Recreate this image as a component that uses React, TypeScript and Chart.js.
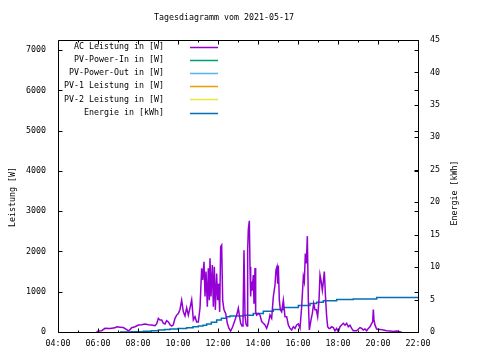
import React, { useEffect, useRef } from 'react';
import { Chart, registerables } from 'chart.js';

Chart.register(...registerables);

const chartTitle = 'Tagesdiagramm vom 2021-05-17';
const leftAxisTitle = 'Leistung [W]';
const rightAxisTitle = 'Energie [kWh]';

const seriesNames = [
  'AC Leistung in [W]',
  'PV-Power-In in [W]',
  'PV-Power-Out in [W]',
  'PV-1 Leistung in [W]',
  'PV-2 Leistung in [W]',
  'Energie in [kWh]',
];
const seriesColors = ['#9400d3', '#009e73', '#56b4e9', '#e69f00', '#f0e442', '#0072b2'];

// time in minutes after midnight
const acMinutes = [
  356, 361, 371, 381, 396, 411, 416, 426, 436, 446, 451, 456, 461, 471, 481, 491, 501, 511, 521, 531,
  536, 541, 546, 551, 556, 561, 566, 571, 576, 581, 586, 591, 596, 601, 606, 611, 616, 621, 626, 631,
  636, 641, 646, 651, 656, 661, 666, 671, 674, 678, 681, 684, 688, 691, 694, 696, 699, 703, 706, 709,
  712, 716, 719, 722, 725, 728, 731, 734, 738, 743, 748, 753, 758, 764, 771, 776, 781, 784, 788, 792,
  795, 798, 801, 804, 807, 809, 811, 814, 816, 818, 820, 822, 824, 826, 828, 831, 833, 836, 841, 846,
  851, 856, 861, 866, 871, 876, 881, 886, 891, 894, 897, 899, 901, 904, 907, 911, 916, 921, 926, 931,
  936, 941, 946, 951, 956, 961, 966, 971, 976, 979, 982, 985, 988, 991, 994, 999, 1003, 1007, 1011, 1015,
  1019, 1023, 1026, 1029, 1033, 1036, 1039, 1043, 1046, 1049, 1053, 1056, 1061, 1066, 1071, 1076, 1081, 1086, 1096, 1101,
  1106, 1111, 1116, 1121, 1126, 1136, 1146, 1151, 1156, 1161, 1166, 1171, 1176, 1181, 1184, 1186, 1188, 1191, 1196, 1206,
  1216, 1226, 1236, 1246, 1256, 1266, 1271,
];
const acWatts = [
  0, 25, 33, 91, 90, 105, 130, 120, 110, 60, 30, 60, 105, 130, 174, 180, 198, 180, 175, 158,
  200, 340, 300, 300, 220, 200, 280, 250, 180, 150, 180, 340, 420, 460, 560, 790, 500, 400, 600, 420,
  600, 800, 300, 380, 250, 250, 600, 1580, 1290, 1745, 880, 1500, 630, 1580, 790, 1830, 880, 1660, 630, 1620,
  550, 1450, 790, 1200, 500, 2120, 2160, 790, 550, 460, 215, 90, 25, 130, 300, 420, 590, 420, 215, 150,
  300, 2030, 400, 200, 150, 2030, 2550, 2760, 1620, 880, 1250, 1040, 1200, 1414, 700, 1590, 500, 420, 460, 420,
  260, 215, 175, 90, 215, 420, 340, 877, 1166, 1540, 1620, 1200, 1650, 790, 550, 500, 790, 380, 380, 175,
  90, 50, 130, 90, 175, 200, 90, 628, 1373, 1250, 1950, 1700, 2380, 790, 50, 300, 460, 710, 550, 550,
  380, 790, 1420, 1290, 1040, 1250, 1500, 790, 380, 130, 90, 90, 130, 110, 30, 90, 5, 130, 215, 170,
  215, 130, 170, 90, 30, 30, 110, 90, 50, 75, 30, 90, 130, 215, 250, 560, 300, 170, 75, 65,
  50, 30, 25, 15, 25, 5, 0,
];

const pvInWatts: number[] = [];
const pvOutWatts: number[] = [];
const pv1Watts: number[] = [];
const pv2Watts: number[] = [];

const energyMinutes = [
  426, 460, 496, 520, 541, 560, 576, 600, 626, 645, 661, 675, 686, 700, 716, 730, 746, 756, 796, 826,
  856, 886, 916, 961, 996, 1016, 1036, 1076, 1126, 1196, 1320,
];
const energyKwh = [
  0, 0.05, 0.1, 0.2, 0.3, 0.4, 0.46, 0.55, 0.66, 0.8, 0.92, 1.05, 1.22, 1.5, 1.84, 2.1, 2.35, 2.45, 2.6, 2.86,
  3.2, 3.47, 3.78, 4.08, 4.39, 4.6, 4.8, 5.0, 5.1, 5.3, 5.3,
];

// axis ranges and tick labels
const xMin = 240; // 04:00
const xMax = 1320; // 22:00
const xTickMinutes = [240, 360, 480, 600, 720, 840, 960, 1080, 1200, 1320];
const xMinorTickMinutes = [300, 420, 540, 660, 780, 900, 1020, 1140, 1260];
const wattMax = 7250;
const wattTicks = [0, 1000, 2000, 3000, 4000, 5000, 6000, 7000];
const kwhMax = 45;
const kwhTicks = [0, 5, 10, 15, 20, 25, 30, 35, 40, 45];

const FONT_FAMILY = '"DejaVu Sans Mono", "Liberation Mono", monospace';
const FONT_SIZE = 8.3;
const FONT = `${FONT_SIZE}px ${FONT_FAMILY}`;

const fmtTime = (v: number) => {
  const h = Math.floor(v / 60);
  const m = Math.round(v % 60);
  return `${String(h).padStart(2, '0')}:${String(m).padStart(2, '0')}`;
};

const zip = (xs: number[], ys: number[]) => xs.map((x, i) => ({ x, y: ys[i] }));

const decorPlugin = {
  id: 'gnuplotDecor',
  afterDatasetsDraw(chart: any) {
    const { ctx, chartArea: a, scales } = chart;
    const xs = scales.x;
    const y1 = scales.y;
    const y2 = scales.y2;
    ctx.save();
    ctx.strokeStyle = '#000';
    ctx.lineWidth = 1;
    const L = Math.round(a.left) + 0.5;
    const R = Math.round(a.right) + 0.5;
    const T = Math.round(a.top) + 0.5;
    const B = Math.round(a.bottom) + 0.5;
    ctx.beginPath();
    ctx.rect(L, T, R - L, B - T);
    const major = 4;
    const minor = 2;
    xTickMinutes.forEach((v) => {
      const px = Math.round(xs.getPixelForValue(v)) + 0.5;
      ctx.moveTo(px, B); ctx.lineTo(px, B - major);
      ctx.moveTo(px, T); ctx.lineTo(px, T + major);
    });
    xMinorTickMinutes.forEach((v) => {
      const mp = Math.round(xs.getPixelForValue(v)) + 0.5;
      ctx.moveTo(mp, B); ctx.lineTo(mp, B - minor);
      ctx.moveTo(mp, T); ctx.lineTo(mp, T + minor);
    });
    wattTicks.forEach((v) => {
      const py = Math.round(y1.getPixelForValue(v)) + 0.5;
      ctx.moveTo(L, py); ctx.lineTo(L + major, py);
      ctx.moveTo(R, py); ctx.lineTo(R - major, py);
    });
    kwhTicks.forEach((v) => {
      const py = Math.round(y2.getPixelForValue(v)) + 0.5;
      ctx.moveTo(R, py); ctx.lineTo(R - major, py);
    });
    ctx.stroke();

    // title & axis titles
    ctx.fillStyle = '#000';
    ctx.font = FONT;
    ctx.textBaseline = 'middle';
    ctx.textAlign = 'center';
    ctx.fillText(chartTitle, 224, 18);
    ctx.save();
    ctx.translate(13, 197);
    ctx.rotate(-Math.PI / 2);
    ctx.fillText(leftAxisTitle, 0, 0);
    ctx.restore();
    ctx.save();
    ctx.translate(455, 193);
    ctx.rotate(-Math.PI / 2);
    ctx.fillText(rightAxisTitle, 0, 0);
    ctx.restore();

    // key
    chart.data.datasets.forEach((ds: any, i: number) => {
      const y = 47 + i * 13.1;
      ctx.textAlign = 'right';
      ctx.fillStyle = '#000';
      ctx.fillText(ds.label, 164, y);
      ctx.strokeStyle = ds.borderColor;
      ctx.lineWidth = 1.5;
      ctx.beginPath();
      ctx.moveTo(190, Math.round(y) + 0.5);
      ctx.lineTo(218, Math.round(y) + 0.5);
      ctx.stroke();
    });
    ctx.restore();
  },
};

export default function App() {
  const canvasRef = useRef<HTMLCanvasElement | null>(null);

  useEffect(() => {
    document.body.style.margin = '0';
    const canvas = canvasRef.current;
    if (!canvas) return;
    const tickFont = { family: FONT_FAMILY, size: FONT_SIZE };
    const seriesData = [
      zip(acMinutes, acWatts),
      zip([], pvInWatts),
      zip([], pvOutWatts),
      zip([], pv1Watts),
      zip([], pv2Watts),
      zip(energyMinutes, energyKwh),
    ];
    const chart = new Chart(canvas, {
      type: 'line',
      data: {
        datasets: seriesNames.map((name, i) => ({
          label: name,
          data: seriesData[i],
          borderColor: seriesColors[i],
          backgroundColor: seriesColors[i],
          borderWidth: 1.5,
          pointRadius: 0,
          fill: false,
          tension: 0,
          stepped: i === 5 ? true : false,
          yAxisID: i === 5 ? 'y2' : 'y',
        })),
      },
      options: {
        animation: false,
        responsive: false,
        devicePixelRatio: 1,
        parsing: false,
        layout: { padding: { top: 40, left: 0, right: 0, bottom: 0 } },
        plugins: {
          legend: { display: false },
          tooltip: { enabled: false },
          title: { display: false },
        },
        scales: {
          x: {
            type: 'linear',
            min: xMin,
            max: xMax,
            grid: { display: false, drawTicks: false },
            border: { display: false },
            afterBuildTicks: (s: any) => { s.ticks = xTickMinutes.map((value) => ({ value })); },
            ticks: {
              autoSkip: false,
              maxRotation: 0,
              padding: 7,
              color: '#000',
              font: tickFont,
              callback: (v: any) => fmtTime(Number(v)),
            },
            afterFit: (s: any) => { s.height = 28; },
          },
          y: {
            type: 'linear',
            position: 'left',
            min: 0,
            max: wattMax,
            grid: { display: false, drawTicks: false },
            border: { display: false },
            afterBuildTicks: (s: any) => { s.ticks = wattTicks.map((value) => ({ value })); },
            ticks: {
              autoSkip: false,
              padding: 12,
              color: '#000',
              font: tickFont,
              callback: (v: any) => String(v),
            },
            afterFit: (s: any) => { s.width = 58; },
          },
          y2: {
            type: 'linear',
            position: 'right',
            min: 0,
            max: kwhMax,
            grid: { display: false, drawTicks: false },
            border: { display: false },
            afterBuildTicks: (s: any) => { s.ticks = kwhTicks.map((value) => ({ value })); },
            ticks: {
              autoSkip: false,
              padding: 12,
              color: '#000',
              font: tickFont,
              callback: (v: any) => String(v),
            },
            afterFit: (s: any) => { s.width = 62; },
          },
        },
      },
      plugins: [decorPlugin],
    } as any);
    return () => chart.destroy();
  }, []);

  return (
    <div style={{ width: 480, height: 360, background: '#fff' }}>
      <canvas ref={canvasRef} width={480} height={360} style={{ display: 'block', width: 480, height: 360 }} />
    </div>
  );
}
